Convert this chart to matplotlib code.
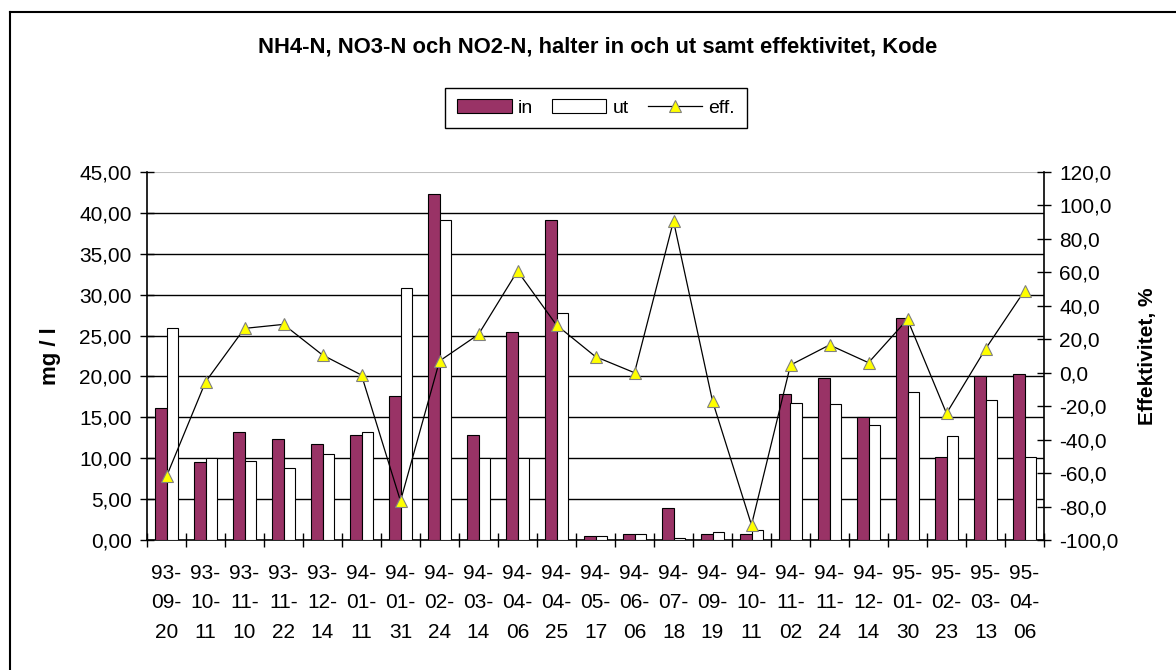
import matplotlib
matplotlib.use("Agg")
import matplotlib.pyplot as plt
from matplotlib.patches import Patch
from matplotlib.lines import Line2D
from matplotlib.ticker import FuncFormatter, FixedLocator
import numpy as np

plt.rcParams['font.family'] = ['Liberation Sans', 'DejaVu Sans']

dates = ["93-09-20", "93-10-11", "93-11-10", "93-11-22", "93-12-14", "94-01-11",
         "94-01-31", "94-02-24", "94-03-14", "94-04-06", "94-04-25", "94-05-17",
         "94-06-06", "94-07-18", "94-09-19", "94-10-11", "94-11-02", "94-11-24",
         "94-12-14", "95-01-30", "95-02-23", "95-03-13", "95-04-06"]
halt_in = [16.1, 9.5, 13.2, 12.4, 11.7, 12.9, 17.6, 42.3, 12.9, 25.4, 39.1, 0.45,
           0.7, 3.9, 0.7, 0.7, 17.8, 19.8, 15.1, 27.1, 10.2, 20.0, 20.3]
halt_ut = [25.9, 10.0, 9.7, 8.8, 10.5, 13.2, 30.8, 39.1, 10.0, 10.0, 27.8, 0.45,
           0.7, 0.2, 0.94, 1.2, 16.8, 16.6, 14.1, 18.1, 12.7, 17.1, 10.2]
eff = [-62.0, -5.5, 26.5, 28.9, 10.6, -1.4, -76.7, 7.0, 22.9, 60.8, 28.5, 9.6,
       0.0, 90.7, -16.9, -91.0, 4.6, 16.6, 6.0, 31.9, -24.3, 14.2, 49.0]

title = "NH4-N, NO3-N och NO2-N, halter in och ut samt effektivitet, Kode"
W, H = 1176, 670
fig = plt.figure(figsize=(W / 100, H / 100), dpi=100)
fig.patch.set_facecolor('white')

# outer chart frame (left & top visible)
fig.add_artist(Line2D([10 / W, 10 / W], [0, 1 - 12 / H], transform=fig.transFigure,
                      color='black', lw=1.5))
fig.add_artist(Line2D([10 / W, 1], [1 - 12 / H, 1 - 12 / H], transform=fig.transFigure,
                      color='black', lw=1.5))

ax = fig.add_axes([147 / W, 1 - 540 / H, (1044 - 147) / W, (540 - 172) / H])
n = len(dates)
x = np.arange(n)
bw = 0.285
ax.bar(x - bw / 2, halt_in, bw, color='#993366', edgecolor='black', linewidth=0.8, zorder=3)
ax.bar(x + bw / 2, halt_ut, bw, color='white', edgecolor='black', linewidth=0.8, zorder=3)
ax.set_xlim(-0.5, n - 0.5)
ax.set_ylim(0, 45)
ax.set_yticks(np.arange(0, 46, 5))
for v in np.arange(5, 41, 5):
    ax.axhline(v, color='black', lw=1.0, zorder=1)
ax.yaxis.set_major_formatter(FuncFormatter(lambda v, p: f"{v:.2f}".replace('.', ',')))
xlabels = [f"{d[:2]}-\n{d[3:5]}-\n{d[6:]}" for d in dates]
ax.set_xticks(x)
ax.set_xticklabels(xlabels, fontsize=15, linespacing=1.72)
ax.xaxis.set_minor_locator(FixedLocator(np.arange(-0.5, n, 1)))
ax.tick_params(axis='x', which='major', length=0, pad=17)
ax.tick_params(axis='x', which='minor', direction='inout', length=10, width=1)
ax.tick_params(axis='y', direction='inout', length=10, width=1, labelsize=15, pad=6)
for s in ['top', 'right']:
    ax.spines[s].set_visible(False)
ax.spines['left'].set_linewidth(1.2)
ax.spines['bottom'].set_linewidth(1.2)
ax.axhline(45, color='#c0c0c0', lw=1.5, zorder=1)
ax.set_ylabel("mg / l", fontsize=16, fontweight='bold', labelpad=13)

ax2 = ax.twinx()
ax2.plot(x, eff, color='black', lw=0.9, marker='^', markersize=9,
         markerfacecolor='#ffff00', markeredgecolor='#808080', markeredgewidth=0.8, zorder=4)
ax2.set_ylim(-100, 120)
ax2.set_yticks(np.arange(-100, 121, 20))
ax2.yaxis.set_major_formatter(FuncFormatter(lambda v, p: f"{v:.1f}".replace('.', ',')))
ax2.tick_params(axis='y', direction='inout', length=10, width=1, labelsize=15, pad=6)
for s in ['top', 'left', 'bottom']:
    ax2.spines[s].set_visible(False)
ax2.spines['right'].set_linewidth(1.2)
ax2.set_ylabel("Effektivitet, %", fontsize=15, fontweight='bold', labelpad=14)

fig.text(598 / W, 1 - 47 / H, title, ha='center', va='center', fontsize=15.8,
         fontweight='bold')

handles = [Patch(facecolor='#993366', edgecolor='black', linewidth=0.8),
           Patch(facecolor='white', edgecolor='black', linewidth=0.8),
           Line2D([], [], color='black', lw=0.9, marker='^', markersize=9,
                  markerfacecolor='#ffff00', markeredgecolor='#808080', markeredgewidth=0.8)]
leg = fig.legend(handles, ["in", "ut", "eff."], loc='center',
                 bbox_to_anchor=(596 / W, 1 - 108 / H), ncol=3, fontsize=14,
                 frameon=True, fancybox=False, framealpha=1, edgecolor='black',
                 handlelength=2.8, handletextpad=0.3, columnspacing=1.0,
                 borderpad=0.6)
leg.get_frame().set_linewidth(1.0)

fig.savefig("out.png", dpi=100)
